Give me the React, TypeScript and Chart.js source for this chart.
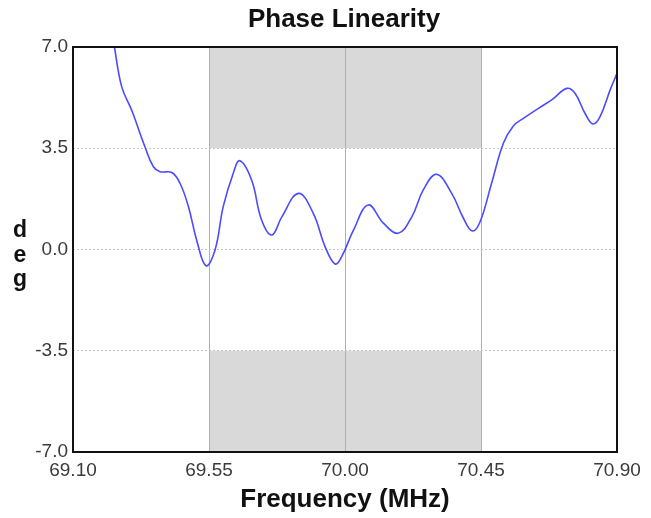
import React, { useEffect, useRef } from "react";
import { Chart, registerables } from "chart.js";

Chart.register(...registerables);

const freqMHz = [69.237, 69.261, 69.294, 69.338, 69.366, 69.388, 69.427, 69.454, 69.482, 69.509, 69.540, 69.570, 69.597, 69.630, 69.652, 69.691, 69.724, 69.758, 69.791, 69.846, 69.895, 69.934, 69.967, 69.989, 70.028, 70.077, 70.127, 70.176, 70.221, 70.259, 70.303, 70.353, 70.392, 70.421, 70.447, 70.485, 70.524, 70.557, 70.590, 70.640, 70.684, 70.734, 70.761, 70.794, 70.820, 70.844, 70.877, 70.900];
const phaseDeg = [7.0, 5.63, 4.82, 3.55, 2.86, 2.69, 2.66, 2.29, 1.48, 0.33, -0.56, -0.02, 1.48, 2.63, 3.07, 2.40, 1.02, 0.50, 1.13, 1.94, 1.25, 0.10, -0.50, -0.25, 0.67, 1.54, 0.91, 0.56, 1.13, 2.06, 2.60, 1.94, 1.08, 0.64, 0.96, 2.29, 3.67, 4.27, 4.53, 4.88, 5.17, 5.57, 5.40, 4.71, 4.34, 4.59, 5.51, 6.09];

const xTicks = [69.10, 69.55, 70.00, 70.45, 70.90];
const yTicks = [-7.0, -3.5, 0.0, 3.5, 7.0];
const shadeX = [69.55, 70.45];
const shadeBands = [[3.5, 7.0], [-7.0, -3.5]];

const titleText = "Phase Linearity";
const xTitle = "Frequency (MHz)";
const yTitleLetters = ["d", "e", "g"];

const FONT = "'Liberation Sans', Arial, Helvetica, sans-serif";

export default function App() {
  const ref = useRef<HTMLCanvasElement | null>(null);
  useEffect(() => {
    if (!ref.current) return;
    const deco = {
      id: "deco",
      beforeDraw(chart: any) {
        const ctx = chart.ctx;
        const xs = chart.scales.x;
        const ys = chart.scales.y;
        ctx.save();
        ctx.fillStyle = "#ffffff";
        ctx.fillRect(0, 0, chart.width, chart.height);
        ctx.fillStyle = "#d9d9d9";
        for (const [lo, hi] of shadeBands) {
          const x1 = xs.getPixelForValue(shadeX[0]);
          const x2 = xs.getPixelForValue(shadeX[1]);
          const y1 = ys.getPixelForValue(hi);
          const y2 = ys.getPixelForValue(lo);
          ctx.fillRect(x1, y1, x2 - x1, y2 - y1);
        }
        ctx.restore();
      },
      afterDraw(chart: any) {
        const ctx = chart.ctx;
        const a = chart.chartArea;
        ctx.save();
        ctx.strokeStyle = "#111";
        ctx.lineWidth = 2;
        ctx.strokeRect(a.left, a.top, a.right - a.left, a.bottom - a.top);
        ctx.fillStyle = "#111";
        ctx.textAlign = "center";
        ctx.textBaseline = "alphabetic";
        ctx.font = `bold 26px ${FONT}`;
        const cx = (a.left + a.right) / 2;
        ctx.fillText(titleText, cx - 1, 27);
        ctx.fillText(xTitle, cx, 507);
        ctx.font = `bold 23px ${FONT}`;
        const base = [237, 262, 286];
        yTitleLetters.forEach((l, i) => ctx.fillText(l, 20, base[i]));
        ctx.restore();
      },
    };
    const chart = new Chart(ref.current, {
      type: "line",
      data: {
        datasets: [
          {
            data: freqMHz.map((f, i) => ({ x: f, y: phaseDeg[i] })),
            borderColor: "#4b4bff",
            borderWidth: 1.6,
            pointRadius: 0,
            tension: 0.4,
            fill: false,
          },
        ],
      },
      options: {
        animation: false,
        responsive: false,
        events: [],
        layout: { padding: { top: 47, right: 34, left: 0, bottom: 0 } },
        plugins: { legend: { display: false }, title: { display: false }, tooltip: { enabled: false } },
        scales: {
          x: {
            type: "linear",
            min: 69.1,
            max: 70.9,
            afterBuildTicks: (s: any) => {
              s.ticks = xTicks.map((v) => ({ value: v }));
            },
            afterFit: (s: any) => {
              s.height = 66;
            },
            grid: { color: "#b0b0b0", lineWidth: 1, drawTicks: false },
            border: { display: false },
            ticks: {
              padding: 7,
              color: "#3a3a3a",
              font: { family: FONT, size: 19 },
              maxRotation: 0,
              autoSkip: false,
              callback: (v: any) => Number(v).toFixed(2),
            },
          },
          y: {
            type: "linear",
            min: -7,
            max: 7,
            afterBuildTicks: (s: any) => {
              s.ticks = yTicks.map((v) => ({ value: v }));
            },
            afterFit: (s: any) => {
              s.width = 73;
            },
            grid: { color: "#c4c4c4", lineWidth: 1, drawTicks: false },
            border: { display: false, dash: [2, 2] },
            ticks: {
              padding: 5,
              color: "#3a3a3a",
              font: { family: FONT, size: 19 },
              autoSkip: false,
              callback: (v: any) => Number(v).toFixed(1),
            },
          },
        },
      },
      plugins: [deco],
    } as any);
    return () => chart.destroy();
  }, []);
  return (
    <div style={{ position: "fixed", left: 0, top: 0, width: 651, height: 518 }}>
      <canvas ref={ref} width={651} height={518} style={{ width: 651, height: 518 }} />
    </div>
  );
}
